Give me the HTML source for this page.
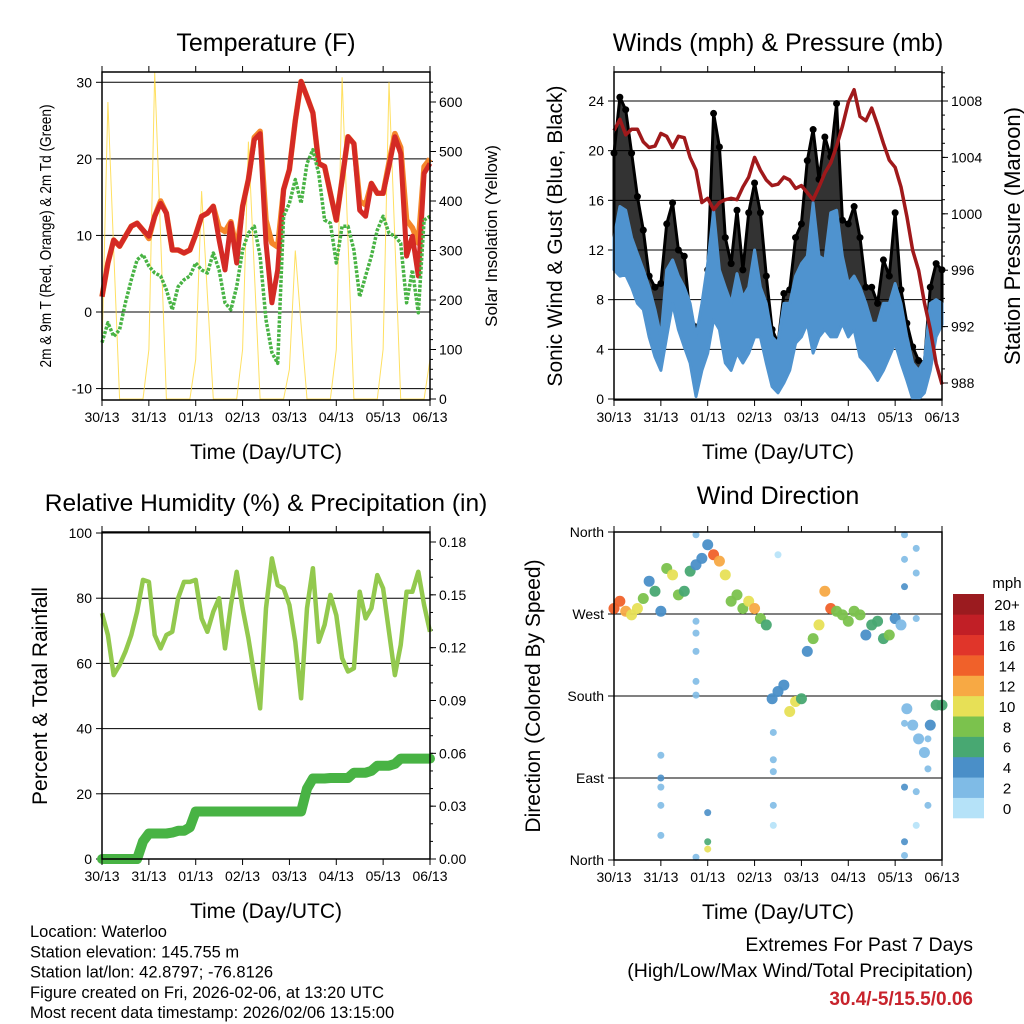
<!DOCTYPE html>
<html><head><meta charset="utf-8"><style>
html,body{margin:0;padding:0;background:#fff;}
svg{display:block;font-family:"Liberation Sans",sans-serif;}
</style></head><body>
<svg id="root" width="1024" height="1024" viewBox="0 0 1024 1024" xmlns="http://www.w3.org/2000/svg"></svg>
<script>
// ---------- data (3-hour samples starting 30/13 UTC, 57 samples over 7 days) ----------
const dayLabels = ["30/13","31/13","01/13","02/13","03/13","04/13","05/13","06/13"];
const temp2m = [2,6.4,9.4,8.6,9.9,11.2,11.6,10.7,9.9,12.5,14.2,12.9,8.1,8.1,7.7,8.1,10.1,12.5,12.9,13.8,9.4,5.5,11.6,6.4,13.8,17.3,22.5,23.3,9,1.2,5.5,16,18.6,25,30.1,28.1,26,19.4,19,15.5,12,17.3,22.9,22,13.3,12.5,16.8,15.5,15.5,19,22.9,20.7,7.3,9.9,4.7,18.1,19.4];
const temp9m = [2,6.4,9.4,8.6,9.9,11.2,11.6,10.7,9.6,12.5,14.5,12.9,8.1,8.1,7.7,8.1,10.1,12.5,12.9,13.8,11,10.5,11.8,8,13.8,17.3,22.8,23.6,12,9,8.5,16,18.6,25,30.1,28.1,26,19.4,19,15.5,12,17.3,22.9,22,14.5,14,16.8,15.5,15.5,19.5,23.3,21.5,12,11,9,19,20];
const dewpt = [-4,-1.4,-3.2,-2.3,1.2,4.2,6.8,7.5,6,5.1,4.7,2.9,0.3,3.3,4.2,4.7,6.4,5.5,5.1,7.7,5.5,1.2,0.3,3.3,8.1,10.3,11.2,7.3,-1,-5.3,-6.7,12.5,14.2,17.3,14.2,19.4,21.2,18.1,12,11.6,6.4,11.2,11.2,8.1,2,4.7,7.3,10.7,12.5,10.3,9.9,9,1.2,5.5,-0.1,12,12.5];
const solar = [100,600,300,0,0,0,0,0, 100,660,330,0,0,0,0,0, 80,420,210,0,0,0,0,0, 100,520,260,0,0,0,0,0, 60,300,150,0,0,0,0,0, 100,650,320,0,0,0,0,0, 100,640,320,0,0,0,0,0, 80];
const windLow = [10.4,9.9,10,9,7.7,7.2,5,3.4,2.3,5,7.7,5.6,4.2,2.9,0.2,2.3,3.7,6.4,5.6,2.9,2.3,3.7,2.9,3.7,5,5,2.9,1,0.5,1.3,2.3,4.5,5,6.1,3.7,5,5.6,5,5,6.1,5,5.6,3.4,2.9,2.3,1.5,2.3,3.4,4.5,2.9,1.5,0,0,0.5,2.3,5,6];
const windHigh = [13,15.5,15.2,13,11.7,10.4,9,7.2,5,10.4,11.2,9.9,9,7.7,5,7.7,10.9,15.2,10.4,9,7.7,10.1,8.2,9,12,9,7.7,5,4.5,7.7,7.7,9.9,10.9,11.5,15.8,11.5,11.2,15,15.2,11.5,9.3,9.9,9,7.7,6.1,6.1,7.7,7.7,9.3,7.7,5,2.9,2.3,3.1,7.7,8,7.7];
const gust = [19.8,24.3,23.3,19.8,16.3,13.6,9.9,9,9.3,14.1,15.8,12,11.5,6.6,5.8,6.1,10.4,23,20.3,13,10.9,15.2,10.4,15,17.4,15,9.9,5.6,4.5,8.5,8.8,13,14.1,19.2,21.7,17.7,21.1,19.5,23.8,14.4,14.1,15.5,13,9,9,7.7,11.2,9.9,15,8.8,6.1,4.2,3.1,2.9,9,10.9,10.4];
const pressure = [1005.9,1006.7,1005.6,1006,1006,1005.1,1004.7,1004.8,1005.7,1005.5,1004.7,1005.5,1005.4,1004,1003.1,1000.8,1001.1,1000.3,1000.8,1001,1001.1,1001,1001.9,1002.6,1004,1003.1,1002.4,1002,1002.1,1002.6,1002.4,1001.8,1002,1001.5,1001,1001.9,1002.9,1003.6,1004.8,1006.2,1007.9,1008.8,1006.9,1006.6,1007.5,1006.3,1005,1003.8,1003.3,1001.9,999.8,997.4,996,993.7,991.8,989.4,987.9];
const rh = [75.4,68.7,56.4,59.5,63.6,68.7,75.9,85.6,85,68.7,64.6,68.7,69.7,80,85,85,85.6,73.8,69.7,75.9,80,64.6,77.9,88.1,76.9,67.7,56.4,46.2,76.9,92.2,84,83,77.9,66.6,49.3,76.9,89.2,66.6,71.8,81,74.8,61.6,57.5,58.5,82,73.8,76.9,87.1,83,69.7,56.4,65.6,82,82,88.1,77.9,69.7];
const precip = [0,0,0,0,0,0,0,0.010,0.0145,0.0145,0.0145,0.0145,0.015,0.016,0.016,0.018,0.027,0.027,0.027,0.027,0.027,0.027,0.027,0.027,0.027,0.027,0.027,0.027,0.027,0.027,0.027,0.027,0.027,0.027,0.027,0.040,0.0457,0.0457,0.0457,0.046,0.046,0.046,0.046,0.049,0.049,0.049,0.050,0.053,0.053,0.053,0.054,0.057,0.057,0.057,0.057,0.057,0.057];
const windDir = [276,284,273,269,276,287,306,295,273,320,313,291,295,317,324,331,346,335,328,313,284,291,276,284,276,265,258,177,185,192,163,174,177,229,243,258,295,276,273,269,262,273,269,247,258,262,243,247,265,258,166,148,133,118,148,170,170];
const dirSpeed = [13,14,12,10,9,8,4,5,4,8,10,7,6,5,4,4,4,13,12,9,7,8,7,9,11,7,6,4,3,4,9,10,6,4,8,9,11,13,8,7,8,7,7,3,5,6,6,7,4,2,2,2,2,1,4,6,6];
const strayDay = [1.0,1.0,1.0,1.0,1.0,1.75,1.75,1.75,1.75,1.75,1.75,1.75,2.0,2.0,2.0,3.4,3.4,3.4,3.4,3.4,3.5,6.2,6.2,6.2,6.2,6.2,6.2,6.2,6.45,6.45,6.45,6.45,6.45,6.7,6.7,6.7];
const strayDir = [115,90,80,60,27,262,249,229,196,181,357,3,52,20,12,140,110,97,60,38,335,357,330,300,20,5,80,150,342,315,265,75,38,133,100,60];
const straySpeed = [2,3,2,2,2,1,1,1,1,1,1,1,4,6,10,1,1,2,1,0,0,1,2,4,3,2,4,2,1,1,1,1,0,1,2,1];
const speedColors = ["#b5e2f8","#7fbbe6","#4a8fc8","#48a872","#7bc24d","#e7e056","#f7a944","#f0612a","#e0352a","#c11f26","#9b1b1f"];
const speedLabels = ["0","2","4","6","8","10","12","14","16","18","20+"];

// ---------- helpers ----------
const NS="http://www.w3.org/2000/svg";
const root=document.getElementById('root');
function mk(tag,attrs,parent){const e=document.createElementNS(NS,tag);for(const k in attrs)e.setAttribute(k,attrs[k]);(parent||root).appendChild(e);return e;}
function txt(s,x,y,size,anchor,parent,extra){const t=mk('text',Object.assign({x:x,y:y,'font-size':size,'text-anchor':anchor||'middle',fill:'#000'},extra||{}),parent);t.textContent=s;return t;}
const STEP=0.125;
function panel(x0,x1,y0,y1){return {x0,x1,y0,y1,X:d=>x0+d*(x1-x0)/7};}
function lin(v0,p0,v1,p1){return v=>p0+(v-v0)*(p1-p0)/(v1-v0);}
function pts(arr,X,Y){return arr.map((v,i)=>X(i*STEP).toFixed(1)+','+Y(v).toFixed(1)).join(' ');}
function frame(p,g){
  mk('rect',{x:p.x0,y:p.y0,width:p.x1-p.x0,height:p.y1-p.y0,fill:'none',stroke:'#000','stroke-width':1.5},g);
}
function xAxis(p,g){
  for(let d=0;d<=7;d++){const x=p.X(d);
    mk('line',{x1:x,y1:p.y1,x2:x,y2:p.y1+6,stroke:'#000','stroke-width':1},g);
    mk('line',{x1:x,y1:p.y0,x2:x,y2:p.y0-6,stroke:'#000','stroke-width':1},g);
    const t=txt(dayLabels[d],x,p.y1+22,14,'middle',g);
    
    
  }
  const t=txt('Time (Day/UTC)',(p.x0+p.x1)/2,p.y1+59,21,'middle',g);
  
  
}
function leftAxis(p,g,ticks,Y,labels,grid){
  ticks.forEach((v,i)=>{const y=Y(v);
    if(grid) mk('line',{x1:p.x0,y1:y,x2:p.x1,y2:y,stroke:'#000','stroke-width':1},g);
    mk('line',{x1:p.x0-6,y1:y,x2:p.x0,y2:y,stroke:'#000','stroke-width':1},g);
    const t=txt(labels[i],p.x0-10,y+5,14,'end',g);
    
    
  });
}
function rightAxis(p,g,ticks,Y,labels,minor){
  (minor||[]).forEach(v=>{const y=Y(v);mk('line',{x1:p.x1,y1:y,x2:p.x1+3,y2:y,stroke:'#000','stroke-width':1},g);});
  ticks.forEach((v,i)=>{const y=Y(v);
    mk('line',{x1:p.x1,y1:y,x2:p.x1+6,y2:y,stroke:'#000','stroke-width':1},g);
    const t=txt(labels[i],p.x1+9,y+5,14,'start',g);
    
    
  });
}
function vtitle(s,x,y,size,g,name){const t=txt(s,x,y,size,'middle',g,{transform:'rotate(-90 '+x+' '+y+')'});
  
  
  return t;}
function range(a,b,s){const r=[];for(let v=a;v<=b+1e-9;v+=s)r.push(+v.toFixed(4));return r;}

// ---------- Panel 1: Temperature ----------
(function(){
  const g=mk('g',{});
  
  
  const p=panel(102,430,72,400);
  const Y=lin(0,312,30,82.3), YS=lin(0,399,600,102);
  const tt=txt('Temperature (F)',266,51,25,'middle',g);
  
  
  leftAxis(p,g,[-10,0,10,20,30],Y,['-10','0','10','20','30'],true);
  rightAxis(p,g,[0,100,200,300,400,500,600],YS,['0','100','200','300','400','500','600'],range(0,640,20));
  const s=mk('polyline',{points:pts(solar,p.X,YS),fill:'none',stroke:'#ffd83a','stroke-width':1,'stroke-opacity':0.8},g);
  
  
  const o=mk('polyline',{points:pts(temp9m,p.X,Y),fill:'none',stroke:'#f5862a','stroke-width':5.5,'stroke-linejoin':'round'},g);
  
  
  const r=mk('polyline',{points:pts(temp2m,p.X,Y),fill:'none',stroke:'#d42a25','stroke-width':5,'stroke-linejoin':'round'},g);
  
  
  const d=mk('polyline',{points:pts(dewpt,p.X,Y),fill:'none',stroke:'#48b344','stroke-width':3.5,'stroke-dasharray':'3 1.5','stroke-linejoin':'round'},g);
  
  
  frame(p,g);xAxis(p,g);
  const vt=vtitle('2m & 9m T (Red, Orange) & 2m Td (Green)',51,236,16,g,'temperature-y-title');
  vt.setAttribute('textLength','263');
  vt.setAttribute('lengthAdjust','spacingAndGlyphs');
  vtitle('Solar Insolation (Yellow)',497,236,17,g,'solar-y-title');
})();

// ---------- Panel 2: Winds & Pressure ----------
(function(){
  const g=mk('g',{});
  
  
  const p=panel(614,942,72,400);
  const Y=lin(0,399,24,101), YP=lin(988,383,1008,101);
  const tt=txt('Winds (mph) & Pressure (mb)',778,51,25,'middle',g);
  
  
  leftAxis(p,g,[0,4,8,12,16,20,24],Y,['0','4','8','12','16','20','24'],true);
  rightAxis(p,g,[988,992,996,1000,1004,1008],YP,['988','992','996','1000','1004','1008'],range(988,1010,1));
  const gb=gust.map((v,i)=>p.X(i*STEP).toFixed(1)+','+Y(v).toFixed(1)).join(' ')+' '+windLow.map((v,i)=>p.X(i*STEP).toFixed(1)+','+Y(v+1).toFixed(1)).reverse().join(' ');
  const gp=mk('polygon',{points:gb,fill:'#000','fill-opacity':0.8,stroke:'#000','stroke-width':3,'stroke-linejoin':'round'},g);
  
  
  gust.forEach((v,i)=>{const c=mk('circle',{cx:p.X(i*STEP),cy:Y(v),r:3.5,fill:'#000'},g);
    
    });
  const wb=windHigh.map((v,i)=>p.X(i*STEP).toFixed(1)+','+Y(v).toFixed(1)).join(' ')+' '+windLow.map((v,i)=>p.X(i*STEP).toFixed(1)+','+Y(v).toFixed(1)).reverse().join(' ');
  const bp=mk('polygon',{points:wb,fill:'#4f93cf',stroke:'#4f93cf','stroke-width':3,'stroke-linejoin':'round'},g);
  
  
  const pl=mk('polyline',{points:pts(pressure,p.X,YP),fill:'none',stroke:'#a0191b','stroke-width':3.5,'stroke-linejoin':'round'},g);
  
  
  frame(p,g);xAxis(p,g);
  vtitle('Sonic Wind & Gust (Blue, Black)',562,236,21,g,'wind-y-title');
  vtitle('Station Pressure (Maroon)',1020,236,22,g,'pressure-y-title');
})();

// ---------- Panel 3: RH & Precip ----------
(function(){
  const g=mk('g',{});
  
  
  const p=panel(102,430,532,859);
  const Y=lin(0,859,100,533), YR=lin(0,859,0.18,542);
  const tt=txt('Relative Humidity (%) & Precipitation (in)',266,511,24.5,'middle',g);
  
  
  leftAxis(p,g,[0,20,40,60,80,100],Y,['0','20','40','60','80','100'],true);
  rightAxis(p,g,[0,0.03,0.06,0.09,0.12,0.15,0.18],YR,['0.00','0.03','0.06','0.09','0.12','0.15','0.18'],range(0,0.18,0.01));
  const l=mk('polyline',{points:pts(rh,p.X,Y),fill:'none',stroke:'#93c94e','stroke-width':4.5,'stroke-linejoin':'round'},g);
  
  
  const pr=mk('polyline',{points:pts(precip,p.X,YR),fill:'none',stroke:'#48b344','stroke-width':10,'stroke-linejoin':'round','stroke-linecap':'round'},g);
  
  
  frame(p,g);xAxis(p,g);
  vtitle('Percent & Total Rainfall',47,696,21,g,'humidity-y-title');
})();

// ---------- Panel 4: Wind Direction ----------
(function(){
  const g=mk('g',{});
  
  
  const p=panel(614,942,532,860);
  const Y=lin(0,860,360,532);
  const tt=txt('Wind Direction',778,504,25,'middle',g);
  
  
  leftAxis(p,g,[0,90,180,270,360],Y,['North','East','South','West','North'],true);
  const col=s=>speedColors[Math.max(0,Math.min(10,Math.round(s/2)))];
  strayDir.forEach((v,i)=>{const c=mk('circle',{cx:p.X(strayDay[i]),cy:Y(v),r:3.5,fill:col(straySpeed[i]),'fill-opacity':0.9},g);
    
    });
  windDir.forEach((v,i)=>{const c=mk('circle',{cx:p.X(i*STEP),cy:Y(v),r:5.5,fill:col(dirSpeed[i]),'fill-opacity':0.95},g);
    
    });
  frame(p,g);xAxis(p,g);
  vtitle('Direction (Colored By Speed)',540,696,21,g,'direction-y-title');
  const cb=mk('g',{},g);
  
  
  const h=224/11;
  speedColors.forEach((c,i)=>{const yy=818-(i+1)*h;
    mk('rect',{x:953,y:yy,width:31,height:h+0.3,fill:c},cb);
    const t=txt(speedLabels[i],1007,yy+h/2+6,15,'middle',cb);
    
    
  });
  const m=txt('mph',1007,588,15,'middle',cb);
  
  
})();

// ---------- footer ----------
const info=["Location: Waterloo","Station elevation: 145.755 m","Station lat/lon: 42.8797; -76.8126","Figure created on Fri, 2026-02-06, at 13:20 UTC","Most recent data timestamp: 2026/02/06 13:15:00"];
info.forEach((s,i)=>{const t=txt(s,30,937+i*20.3,16.5,'start');
  
  });
const e1=txt('Extremes For Past 7 Days',973,951,19.5,'end');


const e2=txt('(High/Low/Max Wind/Total Precipitation)',973,977,19.5,'end');


const e3=txt('30.4/-5/15.5/0.06',973,1005,19,'end',null,{fill:'#c8232c','font-weight':'bold'});


</script>
</body></html>
